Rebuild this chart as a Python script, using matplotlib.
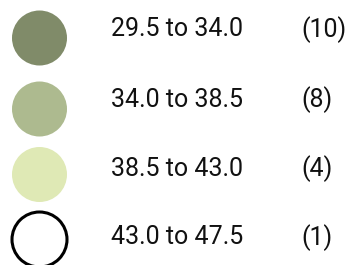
import matplotlib
matplotlib.use("Agg")
import matplotlib.pyplot as plt
from matplotlib.patches import Circle

plt.rcParams['font.family'] = ['Roboto', 'DejaVu Sans']

# 图例数据
ranges = ['29.5 to 34.0', '34.0 to 38.5', '38.5 to 43.0', '43.0 to 47.5']
counts = [10, 8, 4, 1]
colors = ['#808b69', '#adba8f', '#dfe9b5', '#ffffff']
edge_colors = ['none', 'none', 'none', '#000000']

# 布局（像素）
circle_y = [38, 109, 174.5, 239.5]
text_y = [29.5, 100, 169, 237.5]
radius = 27.5

fig = plt.figure(figsize=(3.47, 2.65), dpi=100)
ax = fig.add_axes([0, 0, 1, 1])
ax.set_xlim(0, 347)
ax.set_ylim(265, 0)
ax.axis('off')

for i in range(len(ranges)):
    ax.add_patch(Circle((39.5, circle_y[i]), radius,
                        facecolor=colors[i], edgecolor=edge_colors[i], lw=2.2))
    ax.text(111, text_y[i], ranges[i], fontsize=18, va='center', ha='left', color='#111111')
    ax.text(301, text_y[i], f'({counts[i]})', fontsize=18, va='center', ha='left', color='#111111')

fig.savefig('out.png', dpi=100)
